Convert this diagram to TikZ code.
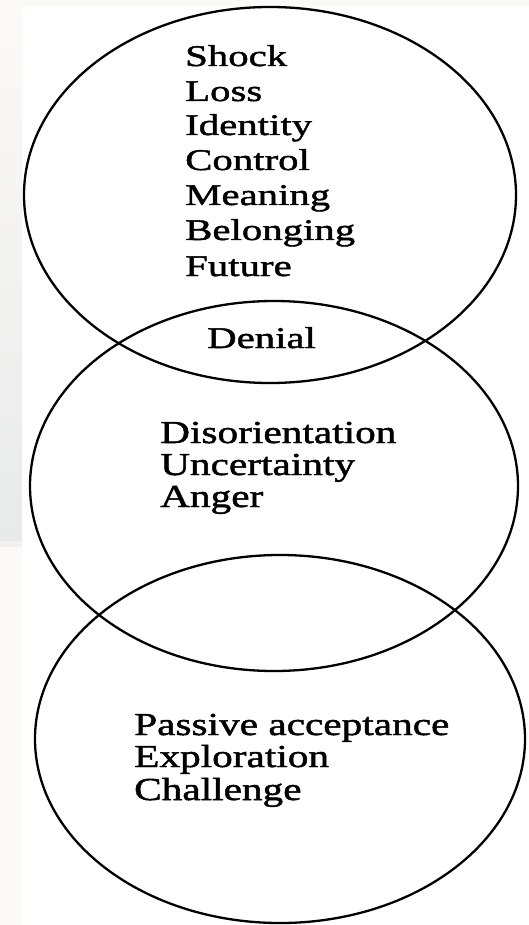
\documentclass[tikz,border=0pt]{standalone}
\usepackage{fontspec}
\setmainfont{Liberation Serif}
\newfontfamily\wideserif[FakeStretch=1.36,FakeBold=1.5]{Liberation Serif}
\newfontfamily\wideserifb[FakeStretch=1.29,FakeBold=1.5]{Liberation Serif}
\usetikzlibrary{shapes.geometric}

\definecolor{paper}{HTML}{FCFAF7}
\definecolor{panelgray}{HTML}{E8EAEA}
\definecolor{panelband}{HTML}{F1F1EF}

\tikzset{
  stage/.style={ellipse, draw=black, line width=2.3pt, inner sep=0pt},
  upper/.style={anchor=base west, inner sep=0pt, font=\wideserif\fontsize{30}{35}\selectfont},
  lower/.style={anchor=base west, inner sep=0pt, font=\wideserifb\fontsize{32}{33}\selectfont},
}

\begin{document}
\begin{tikzpicture}[x=1pt, y=-1pt]
  % page and paper background
  \fill[paper] (0,0) rectangle (529,925);
  \useasboundingbox (0,0) rectangle (529,925);
  % shaded margin strip on the left
  \shade[top color=paper, bottom color=panelgray] (0,0) rectangle (22,541);
  \fill[panelband] (0,541) rectangle (22,547);
  % white sheet
  \fill[white] (22,7) rectangle (529,925);

  % three overlapping stages
  \node[stage, minimum width=492pt, minimum height=376pt] (top) at (270,195) {};
  \node[stage, minimum width=488pt, minimum height=370pt] (mid) at (274,486) {};
  \node[stage, minimum width=490pt, minimum height=368pt] (bot) at (280,739) {};

  % first stage
  \node[upper] (t1) at (185,66)  {Shock};
  \node[upper] (t2) at (185,101) {Loss};
  \node[upper] (t3) at (185,135) {Identity};
  \node[upper] (t4) at (185,170) {Control};
  \node[upper] (t5) at (185,205) {Meaning};
  \node[upper] (t6) at (185,240) {Belonging};
  \node[upper] (t7) at (185,276) {Future};

  % overlap of first and second stage
  \node[upper] (den) at (207,348) {Denial};

  % second stage
  \node[lower] (m1) at (160,443) {Disorientation};
  \node[lower] (m2) at (160,475) {Uncertainty};
  \node[lower] (m3) at (160,507) {Anger};

  % third stage
  \node[lower] (b1) at (134,735) {Passive acceptance};
  \node[lower] (b2) at (134,767) {Exploration};
  \node[lower] (b3) at (134,800) {Challenge};
\end{tikzpicture}
\end{document}
